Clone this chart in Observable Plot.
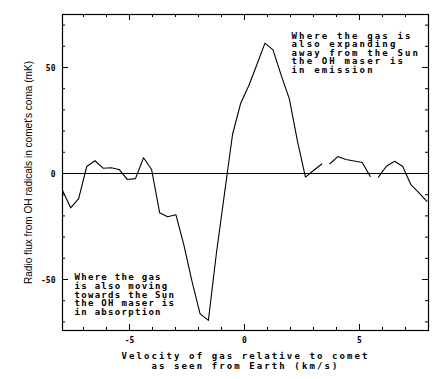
<!DOCTYPE html>
<html><head><meta charset="utf-8">
<script src="https://cdn.jsdelivr.net/npm/d3@7"></script>
<script src="https://cdn.jsdelivr.net/npm/@observablehq/plot@0.6"></script>
<style>html,body{margin:0;padding:0;background:#fff;}</style>
</head><body><div id="chart"></div>
<script>
// Velocity channels (km/s) and radio flux (mK); null marks a break in the trace
const velocity = [-7.91,-7.56,-7.21,-6.86,-6.50,-6.15,-5.80,-5.45,-5.10,-4.74,-4.39,-4.04,-3.69,-3.34,-2.98,-2.63,-2.28,-1.93,-1.57,-1.22,-0.87,-0.52,-0.17,0.19,0.54,0.89,1.24,1.60,1.95,2.30,2.65,3.00,3.36,3.53,3.71,4.06,4.41,4.77,5.12,5.47,5.65,5.82,6.17,6.53,6.88,7.23,7.58,7.93];
const flux = [-8.0,-16.2,-11.9,3.3,6.0,2.5,2.7,1.9,-2.8,-2.4,7.4,1.9,-18.5,-20.4,-19.5,-34,-51,-66.2,-69.3,-37.5,-9.5,18.4,33.0,41.5,51.4,61.5,58.3,46.2,35.2,15.4,-1.7,1.4,4.5,null,4.6,8.0,6.6,5.9,5.2,-1.4,null,-1.7,3.4,5.8,3.3,-5.2,-9.0,-13.1];

const xMajorTicks = [-5, 0, 5];
const xMinorTicks = [-7, -6, -4, -3, -2, -1, 1, 2, 3, 4, 6, 7];
const yMajorTicks = [-50, 0, 50];
const yMinorTicks = [-70, -60, -40, -30, -20, -10, 10, 20, 30, 40, 60, 70];

const xLabel = "Velocity of gas relative to comet\nas seen from Earth (km/s)";
const yLabel = "Radio flux from OH radicals in comet's coma (mK)";
const noteEmission = "Where the gas is\nalso expanding\naway from the Sun\nthe OH maser is\nin emission";
const noteAbsorption = "Where the gas\nis also moving\ntowards the Sun\nthe OH maser is\nin absorption";

const spectrum = velocity.map((v, i) => ({v, f: flux[i]}));

const W = 442, H = 379, mL = 62, mR = 14, mT = 14, mB = 49;
const innerW = W - mL - mR, innerH = H - mT - mB;
const mono = "'DejaVu Sans Mono', 'Liberation Mono', monospace";

const chart = Plot.plot({
  width: W, height: H,
  marginLeft: mL, marginRight: mR, marginTop: mT, marginBottom: mB,
  x: {domain: [-7.913, 8.0], axis: null},
  y: {domain: [-74.06, 75.0], axis: null},
  style: {background: "white", color: "black", fontFamily: mono},
  marks: [
    Plot.ruleY([0], {stroke: "black", strokeWidth: 1}),
    Plot.line(spectrum, {x: "v", y: "f", stroke: "black", strokeWidth: 1.1}),
    // inward ticks: bottom & top
    Plot.tickX(xMinorTicks, {x: d => d, insetTop: innerH - 3, stroke: "black"}),
    Plot.tickX(xMinorTicks, {x: d => d, insetBottom: innerH - 3, stroke: "black"}),
    Plot.tickX(xMajorTicks, {x: d => d, insetTop: innerH - 6, stroke: "black"}),
    Plot.tickX(xMajorTicks, {x: d => d, insetBottom: innerH - 6, stroke: "black"}),
    // inward ticks: left & right
    Plot.tickY(yMinorTicks, {y: d => d, insetRight: innerW - 3, stroke: "black"}),
    Plot.tickY(yMinorTicks, {y: d => d, insetLeft: innerW - 3, stroke: "black"}),
    Plot.tickY(yMajorTicks, {y: d => d, insetRight: innerW - 6, stroke: "black"}),
    Plot.tickY(yMajorTicks, {y: d => d, insetLeft: innerW - 6, stroke: "black"}),
    Plot.frame({stroke: "black", strokeWidth: 1.2}),
    // tick labels
    Plot.text(xMajorTicks, {x: d => d, text: d => String(d), frameAnchor: "bottom", dy: 12.7,
      fontSize: 8, fontWeight: "bold", fontFamily: mono, fill: "black"}),
    Plot.text(yMajorTicks, {y: d => d, text: d => String(d), frameAnchor: "left", textAnchor: "end", dx: -7, dy: 1,
      fontSize: 8, fontWeight: "bold", fontFamily: mono, fill: "black"}),
    // axis titles
    Plot.text([xLabel], {text: d => d, frameAnchor: "bottom", lineAnchor: "top", dy: 20.9, lineHeight: 1.14,
      fontSize: 9, fontWeight: "bold", fontFamily: mono, fill: "black"}),
    Plot.text([yLabel], {text: d => d, frameAnchor: "left", textAnchor: "middle", rotate: -90, dx: -34,
      fontSize: 11, fontFamily: "'Liberation Sans', Arial, sans-serif", fill: "black"}),
    // annotations
    Plot.text([noteEmission], {text: d => d, frameAnchor: "top-left", textAnchor: "start", lineAnchor: "top",
      dx: 229, dy: 18, lineHeight: 0.955, fontSize: 9, fontWeight: "bold", fontFamily: mono, fill: "black"}),
    Plot.text([noteAbsorption], {text: d => d, frameAnchor: "top-left", textAnchor: "start", lineAnchor: "top",
      dx: 12, dy: 259.4, lineHeight: 0.97, fontSize: 9, fontWeight: "bold", fontFamily: mono, fill: "black"})
  ]
});
document.getElementById("chart").appendChild(chart);

// plotter-style letter spacing and condensed y title
chart.querySelectorAll("text").forEach(t => {
  const s = t.textContent;
  if (s.startsWith("Velocity")) t.style.letterSpacing = "2.1px";
  else if (s.startsWith("Where the gas is")) t.style.letterSpacing = "2.15px";
  else if (s.startsWith("Where the gas")) t.style.letterSpacing = "1.3px";
  else if (s.startsWith("Radio flux")) {
    t.setAttribute("textLength", "223");
    t.setAttribute("lengthAdjust", "spacingAndGlyphs");
  }
});
</script>
</body></html>
